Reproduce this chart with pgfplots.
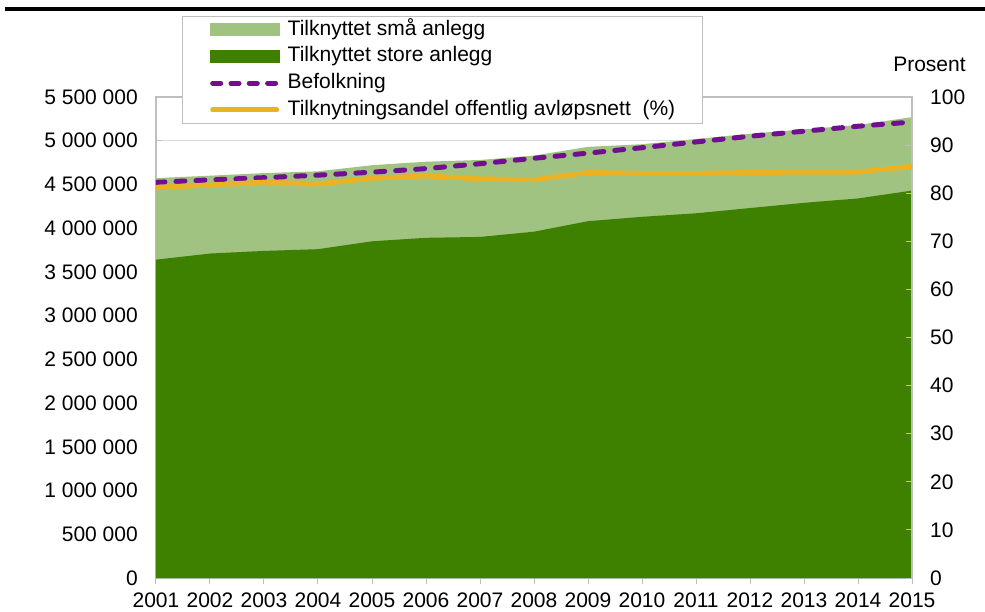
\documentclass[border=0pt]{standalone}
\usepackage{pgfplots}
\pgfplotsset{compat=1.18}
\usepackage{fontspec}
\setmainfont{Liberation Sans}
\definecolor{lgreen}{RGB}{160,195,130}
\definecolor{dgreen}{RGB}{62,129,0}
\definecolor{befc}{RGB}{112,16,144}
\definecolor{orc}{RGB}{235,178,35}
\definecolor{axgray}{RGB}{190,190,190}
\definecolor{gridgray}{RGB}{217,217,217}
\newcommand{\fs}{\fontsize{21}{24}\selectfont}

\pgfplotstableread{
year total large bef
2001 4573000 3640000 4524066
2002 4600000 3710000 4552252
2003 4630000 3740000 4577457
2004 4650000 3760000 4606363
2005 4720000 3850000 4640219
2006 4760000 3890000 4681134
2007 4780000 3900000 4737171
2008 4830000 3960000 4799252
2009 4930000 4080000 4858199
2010 4960000 4130000 4920305
2011 5020000 4170000 4985870
2012 5080000 4230000 5051275
2013 5130000 4290000 5109056
2014 5180000 4340000 5165802
2015 5270000 4430000 5213985
}\datatab

\pgfplotstableread{
year pct
2001 81.2
2002 81.7
2003 82.3
2004 81.9
2005 83.1
2006 83.6
2007 83.0
2008 82.8
2009 84.3
2010 84.1
2011 84.1
2012 84.3
2013 84.4
2014 84.4
2015 85.6
}\pcttab

\begin{document}
\begin{tikzpicture}
\begin{axis}[
  scale only axis, width=756pt, height=481pt,
  xmin=2001, xmax=2015, ymin=0, ymax=5500000,
  xtick={2001,2002,2003,2004,2005,2006,2007,2008,2009,2010,2011,2012,2013,2014,2015},
  xticklabels={2001,2002,2003,2004,2005,2006,2007,2008,2009,2010,2011,2012,2013,2014,2015},
  ytick={0,500000,1000000,1500000,2000000,2500000,3000000,3500000,4000000,4500000,5000000,5500000},
  yticklabels={0,500 000,1 000 000,1 500 000,2 000 000,2 500 000,3 000 000,3 500 000,4 000 000,4 500 000,5 000 000,5 500 000},
  scaled y ticks=false,
  xtick pos=bottom, ytick pos=left,
  tick align=inside,
  major tick length=6pt,
  xtick style={axgray, line width=1pt, yshift=-6pt},
  ytick style={axgray, line width=1pt},
  ymajorgrids, major grid style={gridgray, line width=1.2pt},
  axis line style={axgray, line width=1.5pt},
  ticklabel style={font=\fs},
  yticklabel style={inner sep=0pt, xshift=-18pt},
  xticklabel style={inner sep=0pt, yshift=-15pt},
]
\addplot[draw=none, fill=lgreen] table[x=year, y=total] {\datatab} \closedcycle;
\addplot[draw=none, fill=dgreen] table[x=year, y=large] {\datatab} \closedcycle;
\addplot[befc, line width=5pt, line cap=round, dash pattern=on 9pt off 11pt] table[x=year, y=bef] {\datatab};
\end{axis}
\begin{axis}[
  scale only axis, width=756pt, height=481pt,
  xmin=2001, xmax=2015, ymin=0, ymax=100,
  axis x line=none,
  axis y line*=right,
  ytick={0,10,20,30,40,50,60,70,80,90,100},
  yticklabels={0,10,20,30,40,50,60,70,80,90,100},
  tick align=inside, major tick length=6pt,
  ytick style={axgray, line width=1pt},
  axis line style={axgray, line width=1.5pt},
  ticklabel style={font=\fs},
  yticklabel style={inner sep=0pt, anchor=west, xshift=18pt},
  legend style={at={(0.0344,1.1684)}, anchor=north west, draw=axgray, line width=1.2pt,
    fill=white, font=\fs, inner xsep=27pt, inner ysep=1.5pt, row sep=3.2pt, column sep=6pt,
    nodes={inner xsep=0pt, inner ysep=2pt, text height=15pt, text depth=4.5pt}},
  legend cell align=left,
]
\addlegendimage{legend image code/.code={\fill[lgreen] (0pt,-6pt) rectangle (69pt,6pt);}}
\addlegendentry{Tilknyttet små anlegg}
\addlegendimage{legend image code/.code={\fill[dgreen] (0pt,-6pt) rectangle (69pt,6pt);}}
\addlegendentry{Tilknyttet store anlegg}
\addlegendimage{legend image code/.code={\draw[befc, line width=5pt, line cap=round, dash pattern=on 8pt off 10.3pt] (2.5pt,0pt) -- (69pt,0pt);}}
\addlegendentry{Befolkning}
\addplot[orc, line width=5pt, legend image code/.code={\draw[orc, line width=5pt, line cap=round] (2.5pt,0pt) -- (66.5pt,0pt);}] table[x=year, y=pct] {\pcttab};
\addlegendentry{Tilknytningsandel offentlig avløpsnett\ \ (\%)}
\end{axis}
\node[anchor=base, font=\fs, inner sep=0pt] at (773.5pt,506pt) {Prosent};
\draw[black, line width=4pt] (-151pt,569pt) -- (829pt,569pt);
\pgfresetboundingbox
\useasboundingbox (-156pt,-33pt) rectangle (829pt,578pt);
\end{tikzpicture}
\end{document}
